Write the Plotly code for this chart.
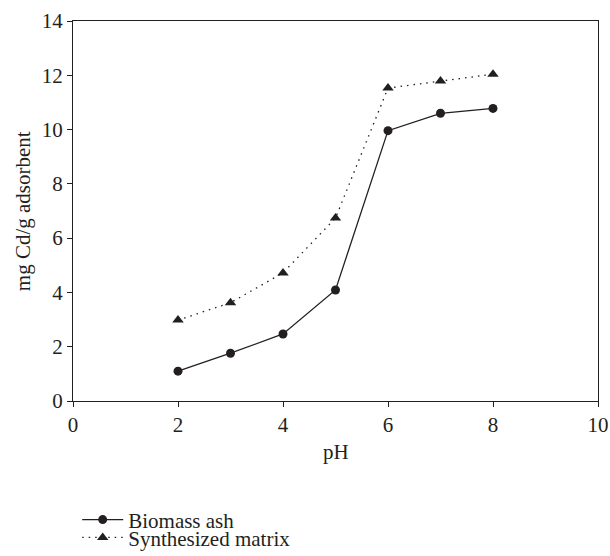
import plotly.graph_objects as go

ph = [2, 3, 4, 5, 6, 7, 8]
biomass_ash = [1.10, 1.76, 2.47, 4.09, 9.96, 10.60, 10.78]
synthesized_matrix = [2.98, 3.62, 4.72, 6.74, 11.53, 11.79, 12.04]

x_ticks = [0, 2, 4, 6, 8, 10]
y_ticks = [0, 2, 4, 6, 8, 10, 12, 14]

ink = "#231F20"
font_family = "Liberation Serif"
fs = 21

fig = go.Figure()
fig.add_trace(go.Scatter(
    x=ph, y=biomass_ash, name="Biomass ash", mode="lines+markers",
    line=dict(color=ink, width=1.3),
    marker=dict(symbol="circle", size=9, color=ink),
    legend="legend",
))
fig.add_trace(go.Scatter(
    x=ph, y=synthesized_matrix, name="Synthesized matrix", mode="lines+markers",
    line=dict(color=ink, width=1.3, dash="1.5px,5px"),
    marker=dict(symbol="triangle-up", size=10, color=ink),
    legend="legend2",
))

axis_common = dict(
    showgrid=False, zeroline=False, showline=True, linecolor=ink, linewidth=1.2,
    mirror=True, ticks="outside", ticklen=5, tickcolor=ink, tickwidth=1,
    tickfont=dict(family=font_family, size=fs, color=ink),
    automargin=False,
)
fig.update_xaxes(range=[0, 10], tickvals=x_ticks, **axis_common)
fig.update_yaxes(range=[0, 14], tickvals=y_ticks, **axis_common)

title_font = dict(family=font_family, size=fs, color=ink)
fig.add_annotation(text="pH", xref="paper", yref="paper", x=0.5, y=-0.134,
                   xanchor="center", yanchor="middle", showarrow=False, font=title_font)
fig.add_annotation(text="mg Cd/g adsorbent", xref="paper", yref="paper", x=-0.095, y=0.5,
                   xanchor="center", yanchor="middle", textangle=-90, showarrow=False, font=title_font)

legend_common = dict(
    xref="paper", yref="paper", xanchor="left", yanchor="middle",
    bgcolor="rgba(0,0,0,0)", font=dict(family=font_family, size=fs, color=ink),
    itemwidth=41,
)
fig.update_layout(
    width=610, height=556,
    margin=dict(l=73, r=12, t=21, b=155, autoexpand=False),
    plot_bgcolor="white", paper_bgcolor="white",
    font=dict(family=font_family, size=fs, color=ink),
    showlegend=True,
    legend=dict(x=0.008, y=-0.313, **legend_common),
    legend2=dict(x=0.008, y=-0.36, **legend_common),
)

fig.write_html("out.html")
